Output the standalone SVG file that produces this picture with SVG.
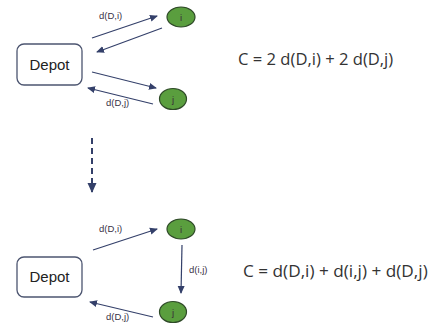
<svg xmlns="http://www.w3.org/2000/svg" width="432" height="327" viewBox="0 0 432 327">
<defs>
<marker id="ah" markerWidth="8" markerHeight="8" refX="7" refY="4" orient="auto" markerUnits="userSpaceOnUse">
<path d="M0,0.5 L8,4 L0,7.5 Z" fill="#34406a"/>
</marker>
<marker id="ahd" markerWidth="10" markerHeight="10" refX="9" refY="5" orient="auto" markerUnits="userSpaceOnUse">
<path d="M0,0.5 L10,5 L0,9.5 Z" fill="#34406a"/>
</marker>
</defs>
<style>
.box{fill:#fff;stroke:#4c5570;stroke-width:1.3}
.nd{fill:#5a9e3e;stroke:#2f4a28;stroke-width:1.2}
.lbl{font-family:"Liberation Sans",Arial,sans-serif;font-size:9.5px;fill:#3a3346}
.nl{font-family:"Liberation Sans",Arial,sans-serif;font-size:9.5px;fill:#3a2a3a;text-anchor:middle}
.dt{font-family:"Liberation Sans",Arial,sans-serif;font-size:15px;fill:#222;text-anchor:middle}
.eq{font-family:"Open Sans",sans-serif;fill:#333}
.c{stroke:#34406a;stroke-width:1.2;fill:none;marker-end:url(#ah)}
</style>
<rect width="432" height="327" fill="#fff"/>
<g id="connectors">
<line class="c" x1="92" y1="38" x2="157" y2="16"/>
<line class="c" x1="162" y1="28" x2="97" y2="52"/>
<line class="c" x1="92" y1="72" x2="156" y2="88"/>
<line class="c" x1="153" y1="104" x2="88" y2="88"/>
<line x1="92" y1="138" x2="92" y2="192" stroke="#34406a" stroke-width="2" stroke-dasharray="6,4" marker-end="url(#ahd)"/>
<line class="c" x1="93" y1="250" x2="157" y2="229"/>
<line class="c" x1="182" y1="245" x2="181" y2="293"/>
<line class="c" x1="153" y1="317" x2="90" y2="302"/>
<text class="lbl" x="99" y="19">d(D,i)</text>
<text class="lbl" x="106" y="106">d(D,j)</text>
<text class="lbl" x="99" y="232">d(D,i)</text>
<text class="lbl" x="189" y="273">d(i,j)</text>
<text class="lbl" x="106" y="320">d(D,j)</text>
</g>
<g id="depot1"><rect class="box" x="17" y="44" width="65" height="41" rx="7"/><text class="dt" x="49.5" y="70">Depot</text></g>
<g id="i1"><ellipse class="nd" cx="181" cy="17" rx="14" ry="10"/><text class="nl" x="181" y="20.5">i</text></g>
<g id="j1"><ellipse class="nd" cx="173" cy="99" rx="13.5" ry="10.5"/><text class="nl" x="173" y="102.5">j</text></g>
<g id="depot2"><rect class="box" x="17" y="257" width="65" height="40" rx="7"/><text class="dt" x="49.5" y="282">Depot</text></g>
<g id="i2"><ellipse class="nd" cx="181" cy="229" rx="14" ry="10"/><text class="nl" x="181" y="232.5">i</text></g>
<g id="j2"><ellipse class="nd" cx="173" cy="312" rx="13.5" ry="10.5"/><text class="nl" x="173" y="315.5">j</text></g>
<g id="formula1"><text class="eq" x="238" y="65" font-size="16.6">C = 2 d(D,i) + 2 d(D,j)</text></g>
<g id="formula2"><text class="eq" x="243" y="277" font-size="17.2">C = d(D,i) + d(i,j) + d(D,j)</text></g>
</svg>
